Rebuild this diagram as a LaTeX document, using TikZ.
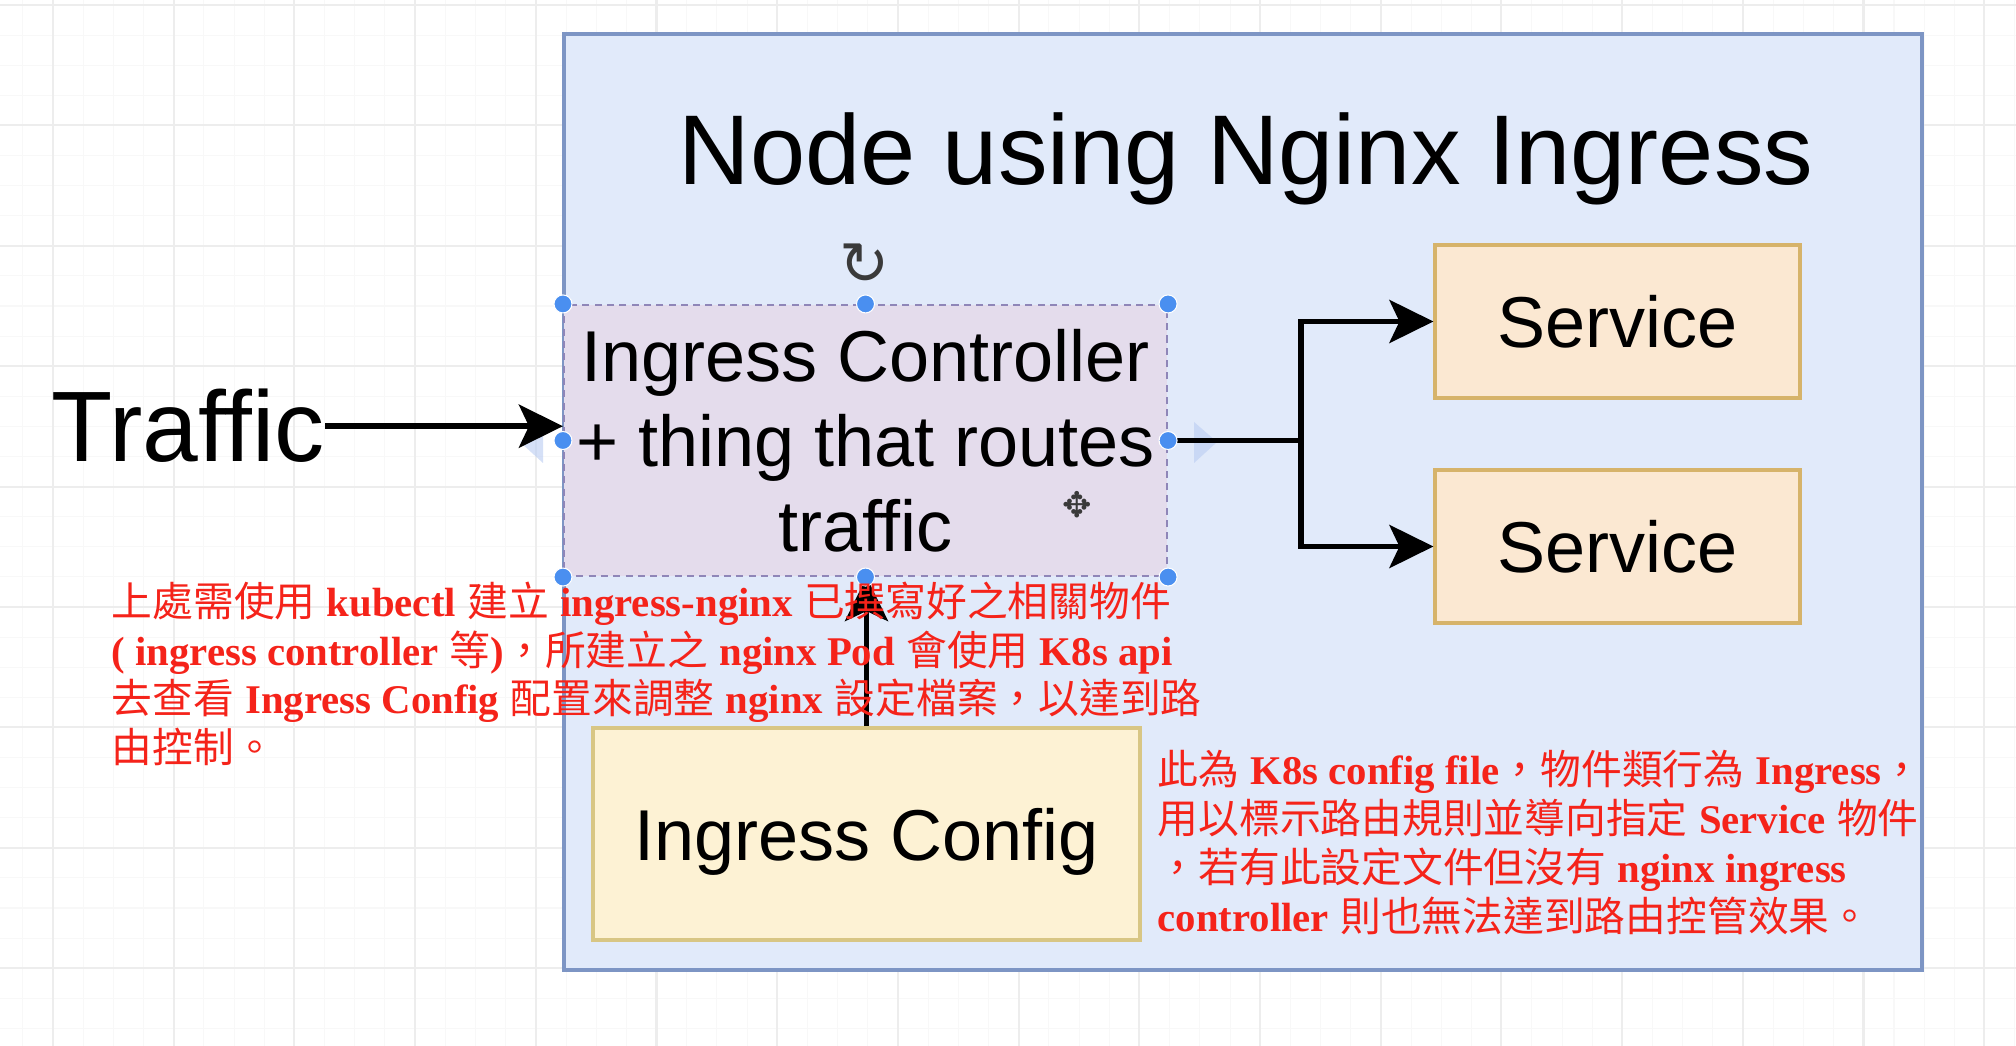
\documentclass[tikz,border=0pt]{standalone}
\usepackage{fontspec}
\setmainfont{Liberation Sans}
\newfontfamily\cjk{Noto Sans CJK TC}
\newfontfamily\noteen{Liberation Serif}
\newfontfamily\symfont{DejaVu Sans}
\usetikzlibrary{arrows.meta,positioning}

\definecolor{gridlight}{HTML}{F8F8F8}
\definecolor{gridmid}{HTML}{EDEDED}
\definecolor{nodefill}{HTML}{E1EAFA}
\definecolor{nodeline}{HTML}{7D95C4}
\definecolor{ctrlfill}{HTML}{E4DCEC}
\definecolor{ctrlline}{HTML}{8F86B8}
\definecolor{svcfill}{HTML}{FBE8D2}
\definecolor{svcline}{HTML}{D6B36A}
\definecolor{cfgfill}{HTML}{FDF2D4}
\definecolor{cfgline}{HTML}{D8C684}
\definecolor{notered}{HTML}{F5231A}
\definecolor{handleblue}{HTML}{4A8FF0}
\definecolor{hintblue}{HTML}{B9CCF2}
\definecolor{rotgray}{HTML}{3A3A3A}

\newcommand\zhtext[1]{{\cjk #1}}
\newcommand\entext[1]{{\noteen\bfseries #1}}

\begin{document}
\begin{tikzpicture}[gridthin/.style={draw=gridlight, line width=0.3pt},
gridthick/.style={draw=gridmid, line width=0.6pt},
box/.style={draw, rectangle, align=center, inner sep=0pt, font=\fontsize{20.5}{24.2}\selectfont},
svcbox/.style={box, fill=svcfill, draw=svcline, line width=0.9pt, minimum width=3.65cm, minimum height=1.53cm, text depth=0pt},
flow/.style={line width=1.6pt, -{Stealth[length=0.44cm, width=0.43cm, inset=0.1cm]}},
handle/.style={circle, fill=handleblue, draw=white, line width=0.3pt, minimum size=0.18cm, inner sep=0pt},
note/.style={text=notered, align=left, inner sep=0pt, font=\fontsize{11.6}{13.9}\selectfont}
]
\useasboundingbox (0,0) rectangle (20.16,-10.46);
\fill[white] (0,0) rectangle (20.16,-10.46);
% grid
\foreach \i in {0,...,66} \draw[gridthin] ({0.228+0.3018*\i},0) -- ++(0,-10.46);
\foreach \j in {0,...,34} \draw[gridthin] (0,{-0.05-0.301*\j}) -- ++(20.16,0);
\foreach \i in {0,...,16} \draw[gridthick] ({0.53+1.207*\i},0) -- ++(0,-10.46);
\foreach \j in {0,...,8} \draw[gridthick] (0,{-0.05-1.204*\j}) -- ++(20.16,0); % <- end grid

\node[draw=nodeline, fill=nodefill, line width=1.1pt, minimum width=13.58cm, minimum height=9.36cm, inner sep=0pt] (k8snode) at (12.43,-5.02) {};
\node[font=\fontsize{28.2}{33}\selectfont, anchor=base] (title) at (12.46,-1.85) {Node using Nginx Ingress};

\node[box, fill=ctrlfill, draw=ctrlline, line width=0.6pt, dash pattern=on 2pt off 1.5pt, minimum width=6.03cm, minimum height=2.71cm] (ctrl) at (8.655,-4.405) {Ingress Controller\\+ thing that routes\\traffic};
\node[svcbox] (svc1) at (16.175,-3.215) {Service};
\node[svcbox] (svc2) at (16.175,-5.465) {Service};
\node[box, fill=cfgfill, draw=cfgline, line width=1.1pt, minimum width=5.47cm, minimum height=2.12cm, text depth=0pt] (cfg) at (8.665,-8.34) {Ingress Config};
\node[font=\fontsize{28.5}{34}\selectfont, inner sep=0pt, anchor=base west] (traffic) at (0.51,-4.62) {Traffic};

% drag hints
\fill[hintblue, opacity=0.6] (11.94,-4.22) -- (12.17,-4.42) -- (11.94,-4.63) -- cycle;
\fill[hintblue, opacity=0.6] (5.43,-4.22) -- (5.20,-4.42) -- (5.43,-4.63) -- cycle;

\coordinate (split) at ([xshift=1.33cm]ctrl.east);
\draw[flow] (traffic.east) -- (traffic.east -| ctrl.west);
\draw[line width=1.6pt] (ctrl.east) -- (split);
\draw[flow] (split) |- (svc1.west);
\draw[flow] (split) |- (svc2.west);
\draw[flow] (cfg.north) -- (cfg.north |- ctrl.south);

% selection handles
\foreach \a in {north west, north, north east, west, east, south west, south, south east}
  \node[handle] (handle \a) at (ctrl.\a) {};
\node[font=\symfont\fontsize{17}{17}\selectfont, text=rotgray, inner sep=0pt] (rotate) at (8.65,-2.64) {↻};
\node[font=\symfont\fontsize{10}{10}\selectfont, text=rotgray, inner sep=0pt] (movecursor) at (10.77,-5.05) {✥};

\node[note, anchor=north west] (leftnote) at (1.11,-5.81) {\zhtext{上處需使用} \entext{kubectl} \zhtext{建立} \entext{ingress-nginx} \zhtext{已撰寫好之相關物件}\\
\entext{( ingress controller} \zhtext{等}\entext{)}\zhtext{，所建立之} \entext{nginx Pod} \zhtext{會使用} \entext{K8s api}\\
\zhtext{去查看} \entext{Ingress Config} \zhtext{配置來調整} \entext{nginx} \zhtext{設定檔案，以達到路}\\
\zhtext{由控制。}}; % <- end left note
\node[note, anchor=north west] (rightnote) at (11.57,-7.50) {\zhtext{此為} \entext{K8s config file}\zhtext{，物件類行為} \entext{Ingress}\zhtext{，}\\
\zhtext{用以標示路由規則並導向指定} \entext{Service} \zhtext{物件}\\
\zhtext{，若有此設定文件但沒有} \entext{nginx ingress}\\
\entext{controller} \zhtext{則也無法達到路由控管效果。}}; % <- end right note
\end{tikzpicture}
\end{document}
